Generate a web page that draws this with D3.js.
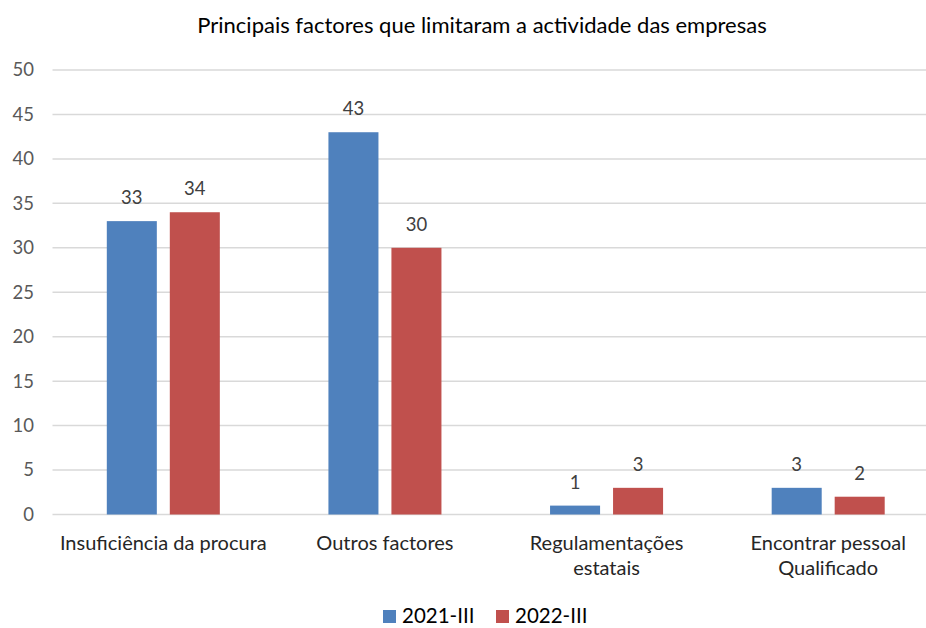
<!DOCTYPE html>
<head>
  <meta charset="utf-8">
  <style>
    body { margin: 0; background: #fff; }
    text { font-family: Lato, "Open Sans", sans-serif; }
  </style>
  <title>Principais factores que limitaram a actividade das empresas</title>
</head>
<body>
  <script src="https://cdn.jsdelivr.net/npm/d3@7"></script>
  <script>
    // data
    var categories = ["Insuficiência da procura", "Outros factores", "Regulamentações estatais", "Encontrar pessoal Qualificado"];
    var categoryLines = [["Insuficiência da procura"], ["Outros factores"], ["Regulamentações", "estatais"], ["Encontrar pessoal", "Qualificado"]];
    var seriesNames = ["2021-III", "2022-III"];
    var values2021 = [33, 43, 1, 3];
    var values2022 = [34, 30, 3, 2];
    var yTicks = [0, 5, 10, 15, 20, 25, 30, 35, 40, 45, 50];
    var colors = ["#4F81BD", "#C0504D"];

    var width = 926, height = 628;
    var plotLeft = 52.5, plotRight = 939, plotTop = 70, plotBottom = 514.5;

    var svg = d3.select("body").append("svg")
      .attr("width", width)
      .attr("height", height);

    // scales
    var x0 = d3.scaleBand().domain(categories).range([plotLeft, plotRight]).padding(0);
    var x1 = d3.scaleBand().domain(seriesNames).range([0, x0.bandwidth()])
      .paddingInner(0.206).paddingOuter(0.862);
    var y = d3.scaleLinear().domain([0, 50]).range([plotBottom, plotTop]);

    // gridlines
    svg.append("g").selectAll("line").data(yTicks).enter().append("line")
      .attr("x1", plotLeft).attr("x2", plotRight)
      .attr("y1", function(d) { return y(d); })
      .attr("y2", function(d) { return y(d); })
      .attr("stroke", "#d9d9d9")
      .attr("stroke-width", 1.5);

    // y axis labels
    var yAxis = d3.axisLeft(y).tickValues(yTicks).tickSize(0).tickPadding(0);
    var gy = svg.append("g")
      .attr("transform", "translate(34,0)")
      .call(yAxis);
    gy.select(".domain").remove();
    gy.selectAll("text")
      .style("font-family", "Lato, 'Open Sans', sans-serif")
      .style("font-size", "18.5px")
      .attr("fill", "#595959");

    // bars
    var rows = categories.map(function(c, i) {
      return { cat: c, vals: [values2021[i], values2022[i]] };
    });
    var groups = svg.selectAll(".grp").data(rows).enter().append("g")
      .attr("class", "grp")
      .attr("transform", function(d) { return "translate(" + x0(d.cat) + ",0)"; });

    groups.selectAll("rect").data(function(d) {
      return d.vals.map(function(v, j) { return { s: seriesNames[j], v: v, j: j }; });
    }).enter().append("rect")
      .attr("x", function(d) { return x1(d.s); })
      .attr("width", x1.bandwidth())
      .attr("y", function(d) { return y(d.v); })
      .attr("height", function(d) { return y(0) - y(d.v); })
      .attr("fill", function(d) { return colors[d.j]; });

    // data labels
    groups.selectAll(".lbl").data(function(d) {
      return d.vals.map(function(v, j) { return { s: seriesNames[j], v: v }; });
    }).enter().append("text")
      .attr("class", "lbl")
      .attr("x", function(d) { return x1(d.s) + x1.bandwidth() / 2; })
      .attr("y", function(d) { return y(d.v) - 17; })
      .attr("text-anchor", "middle")
      .style("font-size", "18.5px")
      .attr("fill", "#404040")
      .text(function(d) { return d.v; });

    // category labels
    var cl = svg.selectAll(".cat").data(categories).enter().append("text")
      .attr("class", "cat")
      .attr("text-anchor", "middle")
      .attr("x", function(d) { return x0(d) + x0.bandwidth() / 2; })
      .attr("y", 550)
      .style("font-size", "20px")
      .attr("fill", "#262626");
    cl.selectAll("tspan").data(function(d, i) { return categoryLines[i]; }).enter().append("tspan")
      .attr("x", function() { var c = d3.select(this.parentNode).datum(); return x0(c) + x0.bandwidth() / 2; })
      .attr("dy", function(d, i) { return i === 0 ? 0 : 25; })
      .text(function(d) { return d; });

    // title
    svg.append("text")
      .attr("text-anchor", "middle")
      .attr("x", 482)
      .attr("y", 33)
      .style("font-size", "22px")
      .attr("fill", "#000")
      .text("Principais factores que limitaram a actividade das empresas");

    // legend
    var legendX = [383, 496];
    var lg = svg.selectAll(".leg").data(seriesNames).enter().append("g")
      .attr("class", "leg")
      .attr("transform", function(d, i) { return "translate(" + legendX[i] + ",610)"; });
    lg.append("rect").attr("width", 13).attr("height", 13)
      .attr("fill", function(d, i) { return colors[i]; });
    lg.append("text").attr("x", 19).attr("y", 13)
      .style("font-size", "20.5px")
      .attr("fill", "#000")
      .text(function(d) { return d; });
  </script>
</body>
